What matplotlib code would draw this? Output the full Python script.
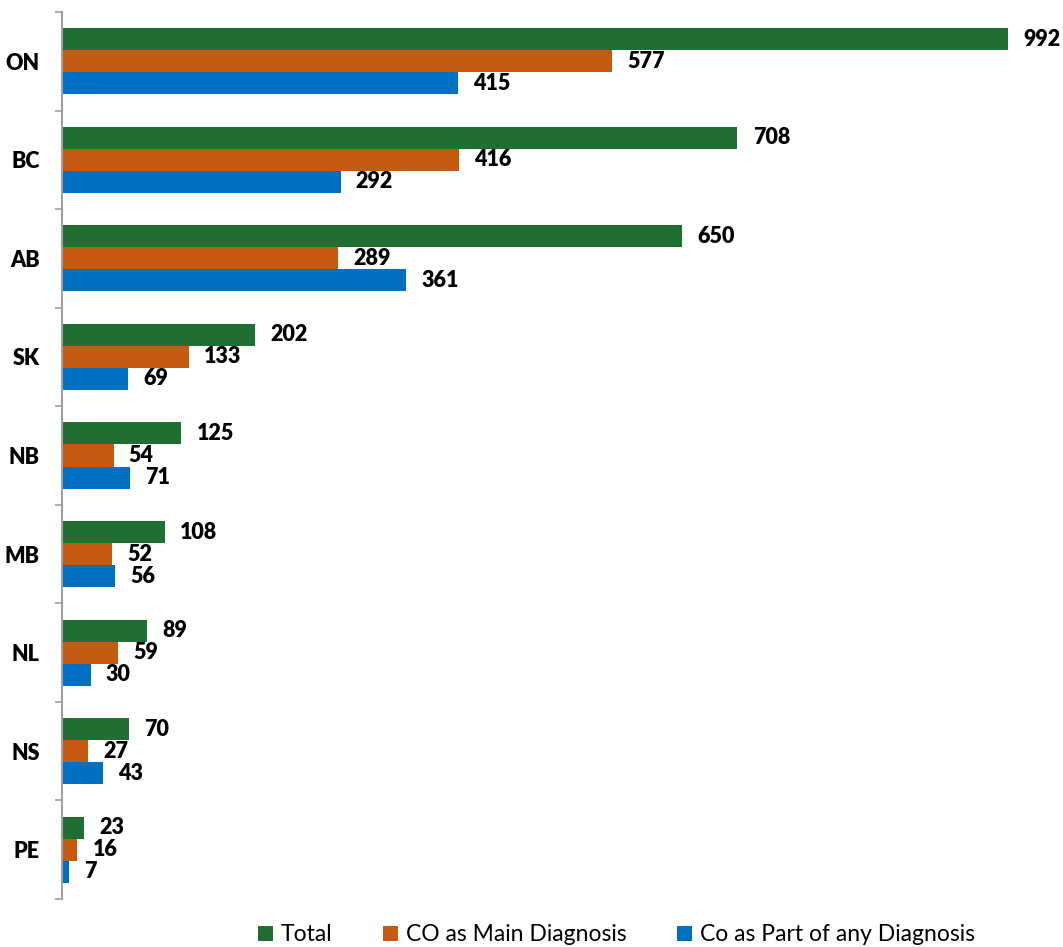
import matplotlib.pyplot as plt
import numpy as np

provinces = ["ON", "BC", "AB", "SK", "NB", "MB", "NL", "NS", "PE"]
total = [992, 708, 650, 202, 125, 108, 89, 70, 23]
co_main = [577, 416, 289, 133, 54, 52, 59, 27, 16]
co_part = [415, 292, 361, 69, 71, 56, 30, 43, 7]

series_names = ["Total", "CO as Main Diagnosis", "Co as Part of any Diagnosis"]
colors = ["#1F6E32", "#C55A11", "#0070C0"]

plt.rcParams['font.family'] = ['Lato', 'DejaVu Sans']

fig = plt.figure(figsize=(10.63, 9.47), dpi=100)
ax = fig.add_axes([62 / 1063, 48 / 947, 954 / 1063, 887 / 947])

y = np.arange(len(provinces))
h = 0.2234
offsets = [-h, 0, h]
for vals, off, col, name in zip([total, co_main, co_part], offsets, colors, series_names):
    bars = ax.barh(y + off, vals, height=h, color=col, label=name)
    for b, v in zip(bars, vals):
        ax.annotate(str(v), (b.get_width(), b.get_y() + b.get_height() / 2),
                    xytext=(11, 0), textcoords="offset points",
                    ha="left", va="center", fontsize=15.5, fontweight="heavy")

ax.set_xlim(0, 1000)
ax.set_ylim(len(provinces) - 0.5, -0.5)
ax.set_yticks(y)
ax.set_yticklabels(provinces, fontsize=15.5, fontweight="heavy")
ax.tick_params(axis="y", which="major", length=0, pad=16)
ax.set_yticks(np.arange(len(provinces) + 1) - 0.5, minor=True)
ax.tick_params(axis="y", which="minor", length=5, width=1.2, color="#A0A0A0")
ax.set_xticks([])
for s in ["top", "right", "bottom"]:
    ax.spines[s].set_visible(False)
ax.spines["left"].set_color("#A0A0A0")
ax.spines["left"].set_linewidth(1.5)

fig.legend(loc="lower center", bbox_to_anchor=(0.58, -0.02), ncol=3, frameon=False,
           fontsize=16.5, handlelength=0.65, handleheight=0.65, handletextpad=0.35,
           columnspacing=2.2)

fig.savefig("out.png", dpi=100)
